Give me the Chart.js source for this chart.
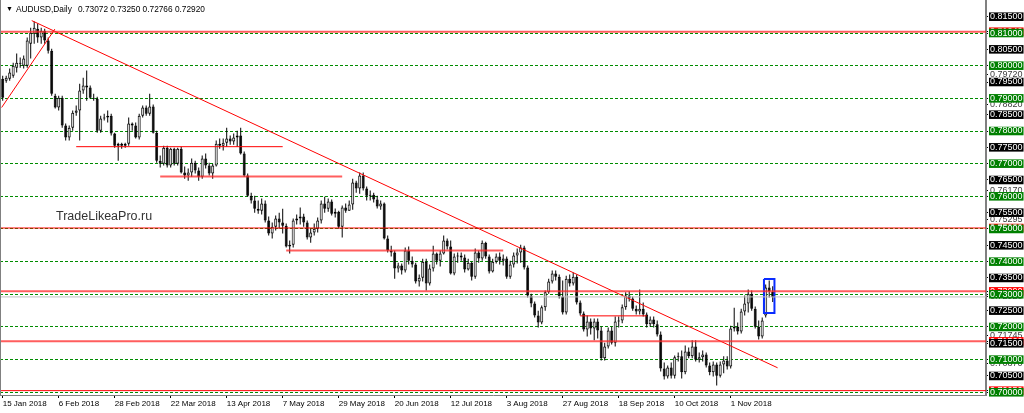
<!DOCTYPE html>
<html><head><meta charset="utf-8">
<script src="https://cdn.jsdelivr.net/npm/chart.js@4/dist/chart.umd.min.js"></script>
<style>
html,body{margin:0;padding:0;background:#fff;}
#wrap{position:relative;width:1024px;height:413px;overflow:hidden;background:#fff;}
canvas{position:absolute;left:0;top:0;}
.t{position:absolute;font-family:"Liberation Sans",Arial,sans-serif;white-space:pre;color:#000;}
#tri{left:6px;top:4px;font-size:7px;line-height:10px;}
#sym{left:16px;top:4px;font-size:8.3px;line-height:10px;}
#ohlc{left:78px;top:4px;font-size:8.3px;line-height:10px;}
#wm{left:56px;top:209px;font-size:12.5px;line-height:14px;color:#333;}
#lb{position:absolute;left:0;top:0;width:1px;height:395px;background:#808080;}
</style></head><body>
<div id="wrap"><canvas id="c" width="1024" height="413"></canvas>
<div id="lb"></div>
<div class="t" id="tri">▼</div>
<div class="t" id="sym">AUDUSD,Daily</div>
<div class="t" id="ohlc">0.73072 0.73250 0.72766 0.72920</div>
<div class="t" id="wm">TradeLikeaPro.ru</div>
</div>
<script>
// ---- daily bars (index 0 = 15 Jan 2018) ----
const opens = [.7960,.7954,.7960,.7969,.7994,.8006,.8000,.8000,.8067,.8098,
.8113,.8086,.8107,.8077,.8046,.7908,.7872,.7902,.7817,.7780,
.7810,.7856,.7863,.7924,.7939,.7933,.7902,.7899,.7801,.7838,
.7841,.7847,.7792,.7755,.7761,.7755,.7761,.7823,.7817,.7780,
.7847,.7872,.7853,.7875,.7795,.7709,.7700,.7749,.7694,.7746,
.7700,.7746,.7673,.7664,.7673,.7703,.7679,.7660,.7716,.7694,
.7670,.7694,.7761,.7755,.7764,.7777,.7768,.7780,.7786,.7731,
.7664,.7602,.7587,.7562,.7556,.7578,.7526,.7486,.7507,.7532,
.7520,.7510,.7446,.7452,.7526,.7532,.7538,.7520,.7474,.7489,
.7501,.7526,.7578,.7562,.7584,.7547,.7553,.7507,.7566,.7556,
.7575,.7642,.7624,.7664,.7624,.7602,.7605,.7590,.7569,.7578,
.7471,.7434,.7428,.7379,.7388,.7373,.7434,.7403,.7391,.7339,
.7351,.7400,.7333,.7379,.7425,.7403,.7425,.7465,.7446,.7364,
.7416,.7419,.7413,.7376,.7397,.7354,.7428,.7410,.7458,.7416,
.7370,.7400,.7416,.7403,.7410,.7354,.7391,.7419,.7428,.7443,
.7382,.7296,.7272,.7235,.7214,.7260,.7306,.7339,.7364,.7354,
.7293,.7244,.7348,.7333,.7354,.7275,.7241,.7192,.7217,.7195,
.7217,.7189,.7104,.7140,.7189,.7152,.7217,.7220,.7260,.7296,
.7287,.7256,.7247,.7256,.7238,.7208,.7223,.7208,.7177,.7073,
.7048,.7076,.7051,.7107,.7110,.7061,.7125,.7110,.7140,.7100,
.7107,.7116,.7082,.7061,.7085,.7051,.7085,.7097,.7079,.7195,
.7201,.7186,.7247,.7272,.7302,.7256,.7201,.7171,.7235,.7321,
.73072];
const highs = [.7969,.7969,.7991,.8009,.8037,.8025,.8031,.8086,.8116,.8135,
.8129,.8116,.8113,.8086,.8052,.7914,.7908,.7908,.7823,.7817,
.7863,.7878,.7945,.7963,.7985,.7939,.7914,.7905,.7847,.7853,
.7863,.7853,.7795,.7764,.7764,.7764,.7841,.7826,.7826,.7853,
.7878,.7878,.7914,.7881,.7801,.7725,.7755,.7755,.7749,.7749,
.7749,.7752,.7691,.7685,.7716,.7709,.7688,.7725,.7731,.7703,
.7700,.7771,.7777,.7777,.7810,.7786,.7792,.7801,.7810,.7737,
.7670,.7611,.7602,.7587,.7593,.7587,.7538,.7520,.7541,.7550,
.7562,.7517,.7465,.7532,.7544,.7566,.7547,.7526,.7501,.7517,
.7535,.7587,.7599,.7593,.7590,.7563,.7556,.7572,.7578,.7587,
.7654,.7648,.7673,.7673,.7630,.7618,.7611,.7602,.7587,.7581,
.7480,.7449,.7434,.7397,.7394,.7443,.7446,.7416,.7397,.7361,
.7409,.7409,.7391,.7449,.7428,.7434,.7480,.7471,.7465,.7425,
.7428,.7428,.7422,.7409,.7400,.7440,.7434,.7465,.7461,.7422,
.7409,.7425,.7428,.7422,.7416,.7403,.7428,.7440,.7452,.7449,
.7388,.7302,.7278,.7250,.7266,.7312,.7348,.7373,.7373,.7361,
.7342,.7357,.7361,.7367,.7361,.7281,.7247,.7235,.7226,.7226,
.7226,.7201,.7152,.7198,.7201,.7232,.7232,.7269,.7306,.7309,
.7293,.7266,.7315,.7275,.7244,.7232,.7232,.7220,.7186,.7091,
.7082,.7091,.7113,.7122,.7128,.7143,.7137,.7159,.7159,.7122,
.7128,.7122,.7091,.7094,.7091,.7094,.7110,.7110,.7204,.7259,
.7214,.7256,.7296,.7315,.7312,.7263,.7220,.7229,.7330,.7342,
.73250];
const lows = [.7893,.7948,.7954,.7963,.7979,.7994,.7991,.7994,.8022,.8067,
.8070,.8067,.8067,.8037,.7908,.7869,.7863,.7810,.7771,.7771,
.7801,.7847,.7771,.7914,.7893,.7899,.7893,.7795,.7795,.7832,
.7826,.7786,.7749,.7709,.7746,.7749,.7755,.7801,.7777,.7774,
.7841,.7847,.7847,.7792,.7703,.7688,.7694,.7688,.7688,.7694,
.7694,.7670,.7654,.7648,.7660,.7670,.7648,.7654,.7685,.7664,
.7654,.7691,.7746,.7740,.7752,.7758,.7758,.7752,.7728,.7660,
.7599,.7578,.7550,.7547,.7544,.7520,.7480,.7471,.7495,.7501,
.7486,.7443,.7425,.7443,.7514,.7514,.7507,.7468,.7458,.7480,
.7489,.7517,.7550,.7553,.7541,.7535,.7501,.7474,.7550,.7556,
.7559,.7611,.7608,.7618,.7587,.7587,.7581,.7563,.7559,.7468,
.7428,.7416,.7348,.7367,.7361,.7367,.7391,.7382,.7333,.7324,
.7339,.7312,.7327,.7370,.7391,.7385,.7422,.7437,.7361,.7358,
.7397,.7403,.7367,.7373,.7342,.7348,.7397,.7403,.7409,.7364,
.7367,.7394,.7391,.7388,.7348,.7348,.7382,.7394,.7397,.7376,
.7290,.7260,.7229,.7198,.7208,.7250,.7302,.7333,.7342,.7287,
.7238,.7238,.7324,.7327,.7269,.7235,.7186,.7171,.7177,.7159,
.7165,.7097,.7097,.7134,.7146,.7140,.7198,.7211,.7253,.7278,
.7250,.7238,.7238,.7232,.7198,.7201,.7198,.7171,.7064,.7039,
.7042,.7042,.7042,.7094,.7042,.7055,.7104,.7104,.7094,.7091,
.7094,.7076,.7052,.7048,.7021,.7045,.7058,.7070,.7073,.7186,
.7177,.7180,.7235,.7244,.7250,.7195,.7162,.7165,.7229,.7290,
.72766];
const closes = [.7902,.7963,.7979,.8000,.8009,.8009,.8022,.8077,.8101,.8116,
.8086,.8107,.8077,.8046,.7914,.7872,.7902,.7817,.7780,.7810,
.7856,.7863,.7924,.7939,.7933,.7902,.7899,.7801,.7838,.7841,
.7847,.7792,.7755,.7761,.7755,.7761,.7823,.7817,.7780,.7847,
.7872,.7853,.7875,.7795,.7709,.7700,.7749,.7694,.7746,.7700,
.7746,.7673,.7664,.7673,.7703,.7679,.7660,.7716,.7694,.7670,
.7694,.7761,.7755,.7764,.7777,.7768,.7780,.7786,.7731,.7664,
.7602,.7587,.7562,.7556,.7578,.7526,.7486,.7507,.7532,.7520,
.7510,.7446,.7452,.7526,.7532,.7538,.7520,.7474,.7489,.7501,
.7526,.7578,.7562,.7584,.7547,.7553,.7507,.7566,.7556,.7575,
.7642,.7624,.7664,.7624,.7602,.7605,.7590,.7569,.7578,.7471,
.7434,.7428,.7379,.7388,.7373,.7434,.7403,.7391,.7339,.7351,
.7400,.7333,.7379,.7425,.7403,.7425,.7465,.7446,.7364,.7416,
.7419,.7413,.7376,.7397,.7354,.7428,.7410,.7458,.7416,.7370,
.7400,.7416,.7403,.7410,.7354,.7391,.7419,.7428,.7443,.7382,
.7296,.7272,.7235,.7214,.7260,.7306,.7339,.7364,.7354,.7293,
.7244,.7348,.7333,.7354,.7275,.7241,.7192,.7217,.7195,.7217,
.7189,.7104,.7140,.7189,.7152,.7217,.7220,.7260,.7296,.7287,
.7256,.7247,.7256,.7238,.7208,.7223,.7208,.7177,.7073,.7048,
.7076,.7051,.7107,.7110,.7061,.7125,.7110,.7140,.7100,.7107,
.7116,.7082,.7061,.7085,.7051,.7085,.7097,.7079,.7195,.7201,
.7186,.7247,.7272,.7302,.7256,.7201,.7171,.7220,.7321,.7309,
.72920];

// ---- axis labels ----
const dateLabels = ['15 Jan 2018','6 Feb 2018','28 Feb 2018','22 Mar 2018','13 Apr 2018','7 May 2018','29 May 2018','20 Jun 2018','12 Jul 2018','3 Aug 2018','27 Aug 2018','18 Sep 2018','10 Oct 2018','1 Nov 2018'];
const dateLabelBars = [0,16,32,48,64,80,96,112,128,144,160,176,192,208];
const priceTicks = [0.700,0.705,0.710,0.715,0.720,0.725,0.730,0.735,0.740,0.745,0.750,0.755,0.760,0.765,0.770,0.775,0.780,0.785,0.790,0.795,0.800,0.805,0.810,0.815];
const markerLabels = [0.79720,0.78820,0.76170,0.75295,0.72920,0.71745,0.70870];

// ---- drawn objects ----
const redLevels = [0.8104,0.7503,0.7309,0.7156,0.7005];
const redLevelThick = [true,false,true,true,false];
const bidLevel = 0.7292;
const segLevels = [0.7752,0.7661,0.7434,0.7234];
const segFrom = [21,45,81,165];
const segTo = [80,97,143,184];
const segThick = [false,true,true,false];
const trendMain = [[8.3,0.8138],[221.4,0.7075]];
const trendEarly = [[-0.3,0.7872],[14.9,0.8112]];
const boxBars = [217.5,220.5];
const boxPrices = [0.7243,0.7347];

const X_MIN = -0.77, X_MAX = 280.94, Y_MIN = 0.69917, Y_MAX = 0.82011;

const bodies = closes.map((c,i)=>({x:i,y:[opens[i],c]}));
const wicks = closes.map((c,i)=>({x:i,y:[lows[i],highs[i]]}));
const bodyColors = closes.map((c,i)=> c>=opens[i] ? '#ffffff' : '#000000');

function lineDs(points, color, width){
  return {type:'line', data:points.map(p=>({x:p[0],y:p[1]})), borderColor:color, borderWidth:width,
    pointRadius:0, pointHoverRadius:0, fill:false, tension:0, order:0, borderJoinStyle:'miter'};
}
const lineSets = [];
lineSets.push(lineDs([[X_MIN-2,bidLevel],[X_MAX+2,bidLevel]], '#c0c0c0', 1));
redLevels.forEach((v,k)=> lineSets.push(lineDs([[X_MIN-2,v],[X_MAX+2,v]], redLevelThick[k]?'rgba(255,40,40,0.75)':'#ff0000', redLevelThick[k]?2:1)));
segLevels.forEach((v,k)=> lineSets.push(lineDs([[segFrom[k],v],[segTo[k],v]], segThick[k]?'rgba(255,40,40,0.75)':'#ff0000', segThick[k]?2:1)));
lineSets.push(lineDs(trendMain, '#ff0000', 1));
lineSets.push(lineDs(trendEarly, '#ff0000', 1));
lineSets.push(lineDs([[boxBars[0],boxPrices[1]],[boxBars[1],boxPrices[1]],[boxBars[1],boxPrices[0]],[boxBars[0],boxPrices[0]],[boxBars[0],boxPrices[1]]], '#0a2cff', 2));

const isGreen = t => t && t.kind==='p' && Math.abs(t.value*100 - Math.round(t.value*100)) < 1e-6;

new Chart(document.getElementById('c'), {
  type:'bar',
  data:{ datasets:[
    {data:bodies, backgroundColor:bodyColors, borderColor:'#000', borderWidth:1, borderSkipped:false,
     barThickness:3, grouped:false, minBarLength:1, inflateAmount:0, order:1},
    {data:wicks, backgroundColor:'#000', borderWidth:0, barThickness:1, grouped:false, inflateAmount:0, order:2},
    ...lineSets
  ]},
  options:{
    responsive:false, animation:false, devicePixelRatio:1,
    layout:{padding:0},
    plugins:{legend:{display:false}, tooltip:{enabled:false}},
    events:[],
    scales:{
      x:{ type:'linear', min:X_MIN, max:X_MAX, offset:false,
        afterBuildTicks:s=>{ s.ticks = dateLabelBars.map((b,k)=>({value:b, txt:dateLabels[k]})); },
        afterFit:s=>{ s.height = 18; s.paddingLeft = 0; s.paddingRight = 0; },
        grid:{ offset:false, drawOnChartArea:false, drawTicks:true, tickLength:3, tickColor:'#000', tickWidth:1 },
        border:{ display:true, color:'#808080', width:1 },
        ticks:{ autoSkip:false, maxRotation:0, minRotation:0, align:'start', padding:1,
          font:{family:'Liberation Sans', size:8}, color:'#000', callback:(v,i,t)=>t[i].txt }
      },
      y:{ type:'linear', position:'right', min:Y_MIN, max:Y_MAX,
        afterBuildTicks:s=>{
          const m = markerLabels.map(v=>({value:v, kind:'m', txt:v.toFixed(5)}));
          const r = redLevels.map(v=>({value:v, kind:'r', txt:v.toFixed(5)}));
          const p = priceTicks.map(v=>({value:v, kind:'p', txt:v.toFixed(5)}));
          s.ticks = [...m, ...r, ...p];
        },
        afterFit:s=>{ s.width = 38; s.paddingTop = 0; s.paddingBottom = 0; },
        grid:{ drawOnChartArea:true, color:c=> isGreen(c.tick) ? 'rgb(0,140,0)' : 'rgba(0,0,0,0)', lineWidth:1,
          drawTicks:true, tickLength:2, tickColor:'#000', tickWidth:1 },
        border:{ display:true, color:'#808080', width:2, dash:[3,2] },
        ticks:{ autoSkip:false, padding:2, font:{family:'Liberation Sans', size:9, lineHeight:0.95},
          callback:(v,i,t)=>t[i].txt,
          color:c=> (c.tick && c.tick.kind==='m') ? '#404040' : '#ffffff',
          showLabelBackdrop:true,
          backdropColor:c=>{ const t=c.tick; if(!t) return 'rgba(0,0,0,0)';
            if(t.kind==='m') return 'rgba(0,0,0,0)'; if(t.kind==='r') return '#ff0000';
            return isGreen(t) ? '#008000' : '#000000'; },
          backdropPadding:{left:1,right:1,top:0,bottom:0}
        }
      }
    }
  }
});
</script>
</body></html>
